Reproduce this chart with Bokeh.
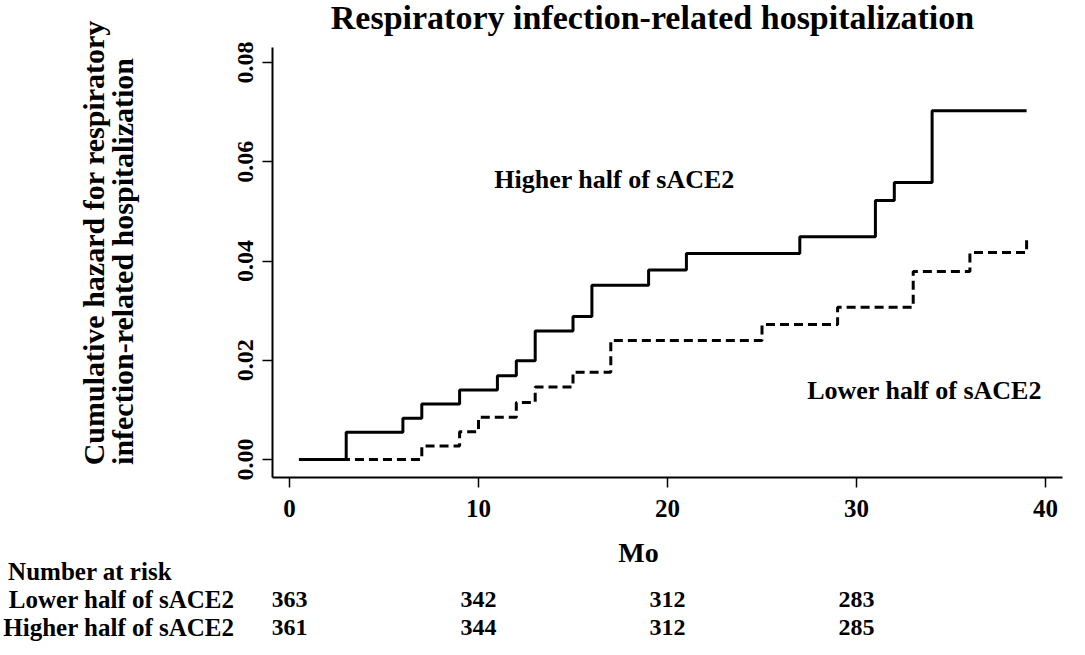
from bokeh.plotting import figure
from bokeh.models import Range1d, FixedTicker, PrintfTickFormatter
from bokeh.layouts import column
from bokeh.core.properties import value
from bokeh.embed import file_html
from bokeh.resources import INLINE

# ---------------- data ----------------
higher_t = [0.5, 3, 6, 7, 9, 11, 12, 13, 15, 16, 19, 21, 27, 31, 32, 34, 39]
higher_h = [0.0, 0.0055, 0.0083, 0.0112, 0.0140, 0.0169, 0.0199, 0.0259, 0.0288,
            0.0351, 0.0382, 0.0415, 0.0449, 0.0522, 0.0558, 0.0703, 0.0703]
lower_t = [0.5, 7, 9, 10, 12, 13, 15, 17, 25, 29, 33, 36, 39]
lower_h = [0.0, 0.0027, 0.0056, 0.0085, 0.0115, 0.0146, 0.0176, 0.0240, 0.0272,
           0.0307, 0.0379, 0.0417, 0.0443]

x_ticks = [0, 10, 20, 30, 40]
y_ticks = [0.00, 0.02, 0.04, 0.06, 0.08]

risk_times = [0, 10, 20, 30]
risk_lower = [363, 342, 312, 283]
risk_higher = [361, 344, 312, 285]
risk_title = "Number at risk"
risk_rows = ["Lower half of sACE2", "Higher half of sACE2"]

title_text = "Respiratory infection-related hospitalization"
y_label_lines = ["Cumulative hazard for respiratory",
                 "infection-related hospitalization"]
x_label = "Mo"
curve_labels = ["Higher half of sACE2", "Lower half of sACE2"]

FONT_NAME = "Liberation Serif"
FONT = value(FONT_NAME)
NBSP = "\u00a0"

# ---------------- main plot ----------------
p = figure(width=1077, height=535, output_backend="svg", toolbar_location=None,
           x_range=Range1d(-0.8995, 40.899), y_range=Range1d(-0.003627, 0.092494),
           min_border_left=272, min_border_right=15, min_border_top=0,
           min_border_bottom=58)
p.outline_line_color = None
p.xgrid.visible = False
p.ygrid.visible = False
p.background_fill_color = "white"
p.border_fill_color = "white"

for ax in (p.xaxis[0], p.yaxis[0]):
    ax.axis_line_width = 2
    ax.axis_line_color = "black"
    ax.major_tick_line_width = 1.5
    ax.major_tick_line_color = "black"
    ax.major_tick_in = 0
    ax.major_tick_out = 10
    ax.minor_tick_line_color = None
    ax.major_label_text_font = FONT_NAME
    ax.major_label_text_font_style = "bold"
    ax.major_label_text_color = "black"

p.xaxis.ticker = FixedTicker(ticks=x_ticks)
p.xaxis.bounds = (-0.8995, 40.899)
p.xaxis.major_label_standoff = 12
p.xaxis.major_label_text_font_size = "25px"

p.yaxis.ticker = FixedTicker(ticks=y_ticks)
p.yaxis.formatter = PrintfTickFormatter(format="%.2f")
p.yaxis.bounds = (-0.003627, 0.083023)
p.yaxis.major_label_orientation = "vertical"
p.yaxis.major_label_standoff = 9
p.yaxis.major_label_text_font_size = "24px"
# both lines start at the same height (bottom), as in the original
p.yaxis.axis_label = (y_label_lines[0] + NBSP * 1 + "\n" +
                      y_label_lines[1] + NBSP * 6)
p.yaxis.axis_label_text_font = FONT_NAME
p.yaxis.axis_label_text_font_style = "bold"
p.yaxis.axis_label_text_font_size = "30px"
p.yaxis.axis_label_text_line_height = 0.87
p.yaxis.axis_label_text_color = "black"
p.yaxis.axis_label_standoff = 97

p.step(lower_t, lower_h, mode="after", line_color="black", line_width=3,
       line_dash="9 5")
p.step(higher_t, higher_h, mode="after", line_color="black", line_width=3)

p.text(x=[17.2, 33.6], y=[0.0565, 0.0139], text=curve_labels, text_font=FONT,
       text_font_style="bold", text_font_size="26px", text_align="center",
       text_baseline="middle", text_color="black")
p.text(x=[19.206], y=[0.08907], text=[title_text], text_font=FONT,
       text_font_style="bold", text_font_size="34px", text_align="center",
       text_baseline="middle", text_color="black")

# ---------------- risk table (shares the month scale) ----------------
t = figure(width=1077, height=112, output_backend="svg", toolbar_location=None,
           x_range=p.x_range, y_range=Range1d(2.714, -1.2857),
           x_axis_type=None,
           min_border_left=272, min_border_right=15, min_border_top=0,
           min_border_bottom=0)
t.outline_line_color = None
t.xgrid.visible = False
t.ygrid.visible = False
t.background_fill_color = "white"
t.border_fill_color = "white"

# row labels through the table's own (row) axis
row_ticks = [0, 1, 2]
row_names = [risk_title + NBSP * 10] + risk_rows
ya = t.yaxis[0]
ya.ticker = FixedTicker(ticks=row_ticks)
ya.major_label_overrides = {k: v for k, v in zip(row_ticks, row_names)}
ya.axis_line_color = None
ya.major_tick_line_color = None
ya.minor_tick_line_color = None
ya.major_tick_in = 0
ya.major_tick_out = 0
ya.major_label_standoff = 38
ya.major_label_text_font = FONT_NAME
ya.major_label_text_font_style = "bold"
ya.major_label_text_font_size = "25px"
ya.major_label_text_color = "black"

t.text(x=[18.47], y=[-0.68], text=[x_label], text_font=FONT,
       text_font_style="bold", text_font_size="28px", text_align="center",
       text_baseline="middle", text_color="black")
t.text(x=risk_times, y=[1] * len(risk_times), text=[str(v) for v in risk_lower],
       text_font=FONT, text_font_style="bold", text_font_size="24px",
       text_align="center", text_baseline="middle", text_color="black")
t.text(x=risk_times, y=[2] * len(risk_times), text=[str(v) for v in risk_higher],
       text_font=FONT, text_font_style="bold", text_font_size="24px",
       text_align="center", text_baseline="middle", text_color="black")

layout = column(p, t, spacing=0)
open("out.html", "w").write(file_html(layout, INLINE))
